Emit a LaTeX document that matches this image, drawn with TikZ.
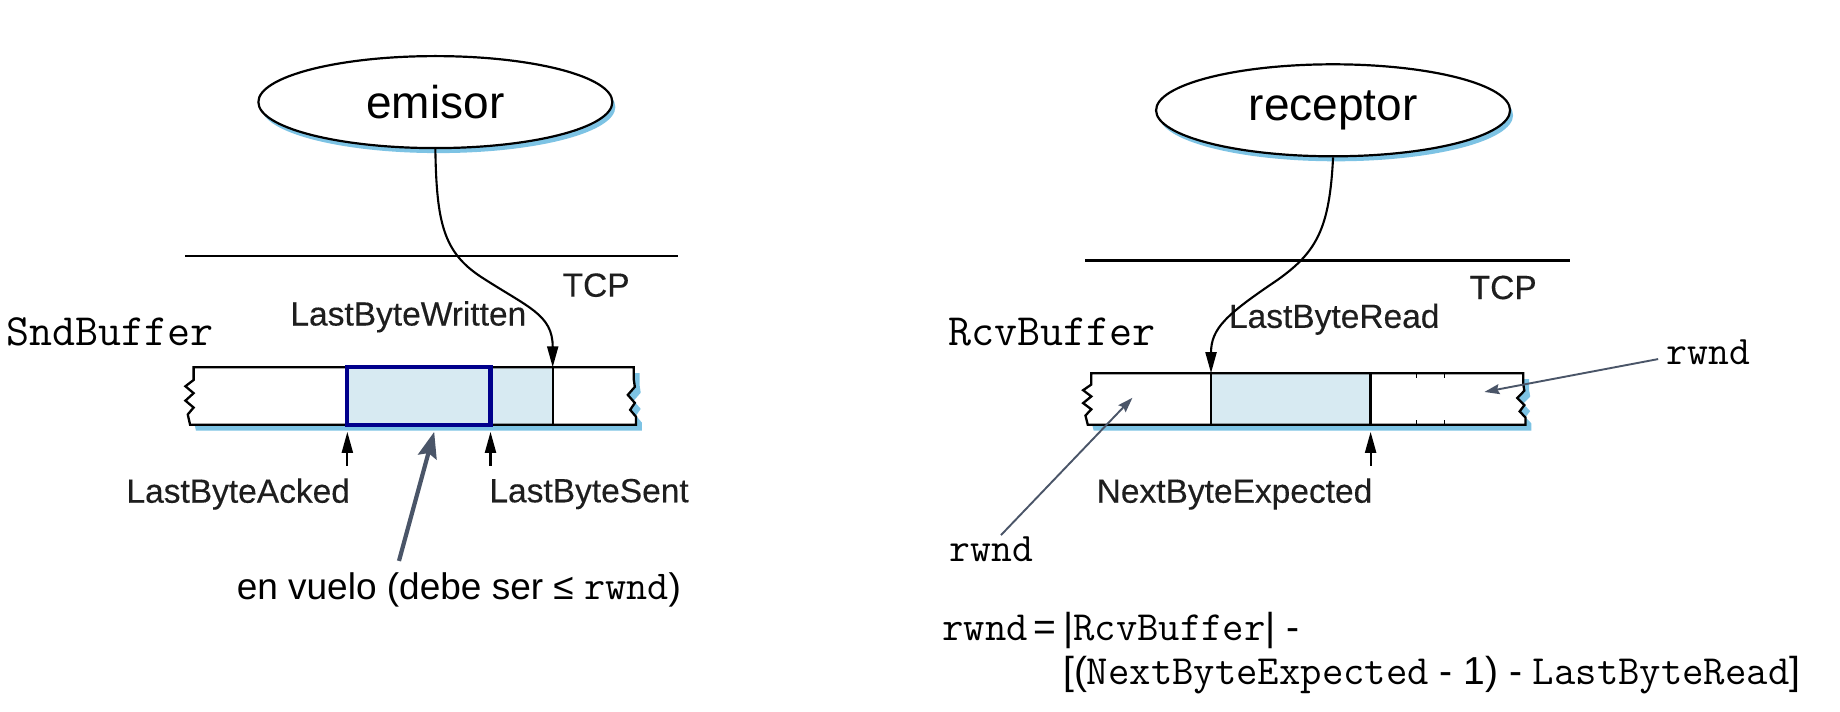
\documentclass[tikz,border=0pt]{standalone}
\usepackage{fontspec}
\setmainfont{Liberation Sans}
\setmonofont{Latin Modern Mono}
\usetikzlibrary{arrows.meta,shapes.geometric,shadows}
\definecolor{shadowblue}{HTML}{7DC3E4}
\definecolor{cellblue}{HTML}{D7EAF2}
\definecolor{navybox}{HTML}{00008C}
\definecolor{slate}{HTML}{4A5568}
\definecolor{labelink}{HTML}{1E1E1E}
\newcommand\setfs[1]{\fontsize{#1}{#1}\selectfont}
% #1 left x, #2 right x, #3 top y, #4 bottom y
\newcommand\bufshape[4]{(#1,#3) -- ({#1},{#3+0.22*(#4-#3)}) -- ({#1-7},{#3+0.33*(#4-#3)}) -- ({#1},{#3+0.45*(#4-#3)}) -- ({#1-7},{#3+0.58*(#4-#3)}) -- ({#1},{#3+0.70*(#4-#3)}) -- ({#1-5},{#3+0.82*(#4-#3)}) -- ({#1-3},#4) -- ({#2+2},#4) -- ({#2+2},{#3+0.86*(#4-#3)}) -- ({#2-3},{#3+0.74*(#4-#3)}) -- ({#2+1},{#3+0.62*(#4-#3)}) -- ({#2-5},{#3+0.48*(#4-#3)}) -- ({#2+1},{#3+0.34*(#4-#3)}) -- ({#2},{#3+0.2*(#4-#3)}) -- (#2,#3) -- cycle}
\begin{document}
\begin{tikzpicture}[x=1.1735pt,y=-1.1735pt,
  app/.style={ellipse, draw, line width=2.2pt, fill=white, minimum width=354pt, minimum height=92pt, inner sep=0pt, font=\setfs{46},
    drop shadow={shadow xshift=3pt, shadow yshift=-5pt, fill=shadowblue, opacity=1}},
  lbl/.style={inner sep=0pt, text=labelink, font=\setfs{33.5}\addfontfeature{FakeBold=0.3}},
  mono/.style={inner sep=0pt, font=\ttfamily\setfs{44.7}},
  rw/.style={inner sep=0pt, font=\ttfamily\setfs{40.5}},
  edge/.style={line width=2.3pt},
  blk/.style={draw=black, line width=2.1pt, -{Triangle[length=21pt,width=11pt]}},
  bigarrow/.style={draw=slate, line width=4.2pt, -{Stealth[length=26pt,width=19pt,inset=4pt]}},
  thinarrow/.style={draw=slate, line width=1.9pt, -{Stealth[length=15pt,width=10pt,inset=2pt]}},
  cellbox/.style={draw=navybox, line width=4.2pt},
  formula/.style={anchor=base west, inner sep=0pt, font=\setfs{39}}
]
\useasboundingbox (0,0) rectangle (1568,606.7);

% ---------------- sender ----------------
\node[app] (emisor) at (371,87) {emisor};
\draw[edge] (158,218) -- (578,218);
\node[lbl] (tcpL) at (508,243) {TCP};
\node[mono, anchor=west] (snd) at (5,283) {SndBuffer};
\node[lbl] (lbw) at (348,270) {LastByteWritten};

\fill[shadowblue, shift={(5,5)}] \bufshape{165}{540}{313}{362};
\fill[white] \bufshape{165}{540}{313}{362};
\fill[cellblue] (296,313) rectangle (471,362);
\draw[edge] \bufshape{165}{540}{313}{362};
\draw[edge] (471,313) -- (471,362);
\draw[cellbox] (296,313) rectangle (418,362);
\coordinate (lbwtip) at (471,313);

\draw[blk] (emisor.south) .. controls (372,190) and (378,215) .. (410,236) .. controls (450,262) and (471,268) .. (lbwtip);

\node[lbl] (lbaL) at (203,421) {LastByteAcked};
\node[lbl] (lbsL) at (502,421) {LastByteSent};
\coordinate (lbaTail) at (296,397);
\coordinate (lbaTip) at (296,368);
\coordinate (lbsTail) at (418,397);
\coordinate (lbsTip) at (418,368);
\draw[blk] (lbaTail) -- (lbaTip);
\draw[blk] (lbsTail) -- (lbsTip);

\node[inner sep=0pt, font=\setfs{37}] (vuelo) at (391,503) {en vuelo (debe ser ≤ {\ttfamily\setfs{41}rwnd})};
\coordinate (vueloTail) at (340,478);
\coordinate (vueloTip) at (370,368);
\draw[bigarrow] (vueloTail) -- (vueloTip);

% ---------------- receiver ----------------
\node[app] (receptor) at (1136,94) {receptor};
\draw[edge] (925,222) -- (1338,222);
\node[lbl] (tcpR) at (1281,245) {TCP};
\node[mono, anchor=west] (rcv) at (808,283) {RcvBuffer};
\node[lbl] (lbr) at (1137,272) {LastByteRead};

\fill[shadowblue, shift={(5,5)}] \bufshape{930}{1298}{318}{362};
\fill[white] \bufshape{930}{1298}{318}{362};
\fill[cellblue] (1032,318) rectangle (1168,362);
\draw[edge] \bufshape{930}{1298}{318}{362};
\draw[edge] (1032,318) -- (1032,362);
\draw[edge] (1168,318) -- (1168,362);
\draw[line width=1.2pt] (1207,318) -- (1207,322) (1207,358) -- (1207,362) (1231,318) -- (1231,322) (1231,358) -- (1231,362);
\coordinate (lbrtip) at (1032,318);

\draw[blk] (receptor.south) .. controls (1133,195) and (1122,215) .. (1088,239) .. controls (1045,268) and (1032,280) .. (lbrtip);

\node[lbl] (nbe) at (1052,421) {NextByteExpected};
\coordinate (nbeTail) at (1168,397);
\coordinate (nbeTip) at (1168,368);
\draw[blk] (nbeTail) -- (nbeTip);

\node[rw] (rwndL) at (845,468) {rwnd};
\node[rw] (rwndR) at (1456,300) {rwnd};
\coordinate (rwLTail) at (853,456);
\coordinate (rwLTip) at (965,339);
\coordinate (rwRTail) at (1413,306);
\coordinate (rwRTip) at (1265,334);
\draw[thinarrow] (rwLTail) -- (rwLTip);
\draw[thinarrow] (rwRTail) -- (rwRTip);

\node[formula] (f1a) at (803,546) {{\fontsize{41.5}{41.5}\ttfamily rwnd}\hspace{6pt}=};
\node[formula] (f1b) at ([xshift=6pt]f1a.base east) {|{\fontsize{41.5}{41.5}\ttfamily RcvBuffer}| -};
\node[formula] (f2) at ([yshift=-44pt]f1b.base west) {[({\fontsize{41.5}{41.5}\ttfamily NextByteExpected} - 1) - {\fontsize{41.5}{41.5}\ttfamily LastByteRead}]};
\end{tikzpicture}
\end{document}
